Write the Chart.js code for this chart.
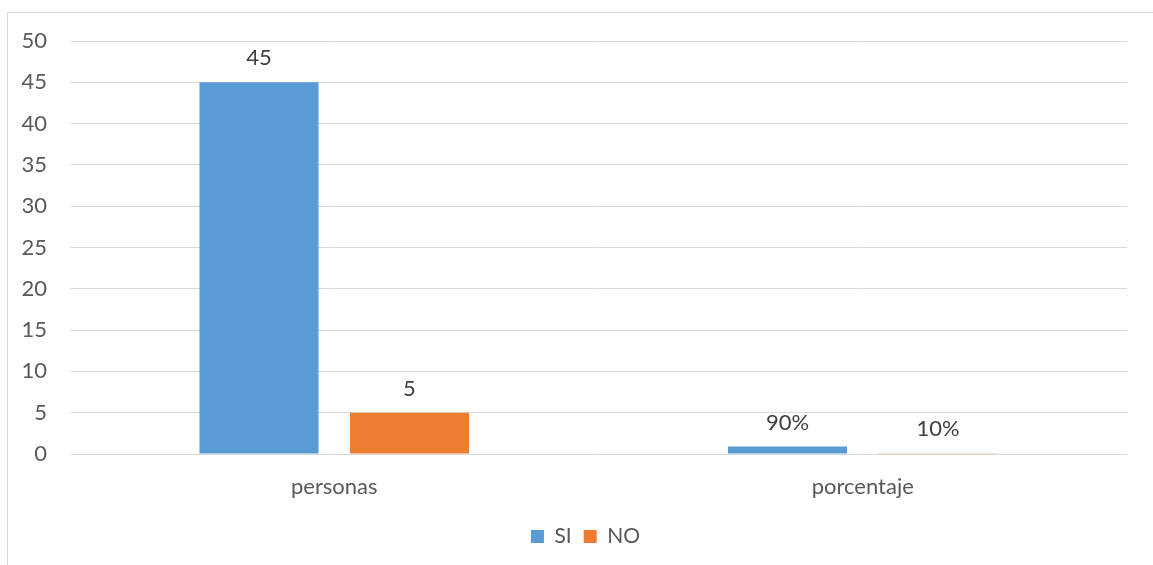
<!DOCTYPE html>
<html>
<head>
<meta charset="utf-8">
<script src="https://cdn.jsdelivr.net/npm/chart.js@4.4.1/dist/chart.umd.min.js"></script>
<style>
	html, body { margin: 0; padding: 0; background: #fff; overflow: hidden; }
	#frame { position: absolute; left: 7px; top: 12px; width: 1170px; height: 580px; border: 1px solid #d9d9d9; }
	#wrap { position: absolute; left: 0; top: 0; width: 1153px; height: 565px; }
</style>
</head>
<body>
<div id="frame"></div>
<div id="wrap"><canvas id="bar-chart"></canvas></div>
<script>
var categories = ['personas', 'porcentaje'];
var seriesNames = ['SI', 'NO'];
var siValues = [45, 0.9];
var noValues = [5, 0.1];
var siLabels = ['45', '90%'];
var noLabels = ['5', '10%'];
var yTicks = [0, 5, 10, 15, 20, 25, 30, 35, 40, 45, 50];
var chartColors = ['#5B9BD5', '#ED7D31'];

var fontFamily = 'Lato, "Liberation Sans", sans-serif';

// draws the value text above each bar
var valueLabels = {
	id: 'valueLabels',
	afterLayout: function (chart) {
		// centre the legend under the plot area instead of the whole canvas
		chart.legend.left = chart.chartArea.left - 26;
	},
	afterDatasetsDraw: function (chart) {
		var ctx = chart.ctx;
		var texts = [siLabels, noLabels];
		ctx.save();
		ctx.font = '22px ' + fontFamily;
		ctx.fillStyle = '#404040';
		ctx.textAlign = 'center';
		ctx.textBaseline = 'middle';
		chart.data.datasets.forEach(function (ds, i) {
			chart.getDatasetMeta(i).data.forEach(function (bar, j) {
				ctx.fillText(texts[i][j], bar.x, bar.y - 24);
			});
		});
		ctx.restore();
	}
};

new Chart('bar-chart', {
	type: 'bar',
	data: {
		labels: categories,
		datasets: [
			{
				label: seriesNames[0],
				data: siValues,
				backgroundColor: chartColors[0]
			},
			{
				label: seriesNames[1],
				data: noValues,
				backgroundColor: chartColors[1]
			}
		]
	},
	options: {
		responsive: true,
		maintainAspectRatio: false,
		animation: false,
		categoryPercentage: 0.5695,
		barPercentage: 0.791,
		layout: {
			padding: { left: 0, right: 26, top: 41, bottom: 8 }
		},
		plugins: {
			tooltip: { enabled: false },
			legend: {
				display: true,
				position: 'bottom',
				labels: {
					boxWidth: 13,
					boxHeight: 13,
					padding: 12,
					color: '#595959',
					font: { family: fontFamily, size: 21 }
				}
			}
		},
		scales: {
			x: {
				grid: { display: false, drawTicks: false },
				border: { display: false },
				ticks: {
					color: '#595959',
					padding: 20,
					font: { family: fontFamily, size: 22 }
				},
				afterFit: function (axis) {
					axis.height = 60;
				}
			},
			y: {
				min: 0,
				max: 50,
				afterBuildTicks: function (axis) {
					axis.ticks = yTicks.map(function (v) { return { value: v }; });
				},
				grid: { color: '#d9d9d9', lineWidth: 1, drawTicks: false },
				border: { display: false },
				ticks: {
					color: '#595959',
					padding: 23,
					font: { family: fontFamily, size: 22 }
				},
				afterFit: function (axis) {
					axis.width = 70;
				}
			}
		}
	},
	plugins: [valueLabels]
});
</script>
</body>
</html>
